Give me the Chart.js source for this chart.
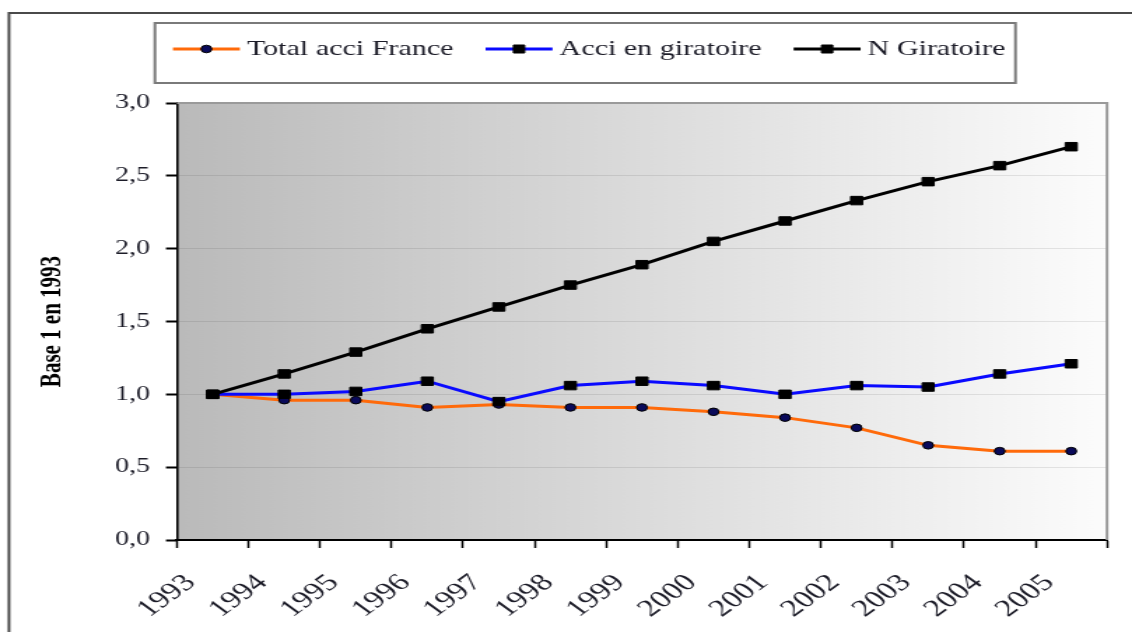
<!DOCTYPE html>
<html>
<head>
<meta charset="utf-8">
<script src="https://cdn.jsdelivr.net/npm/chart.js@4"></script>
<style>
  html, body { margin: 0; padding: 0; background: #fff; overflow: hidden; }
  #wrap { position: relative; width: 1132px; height: 632px; }
  canvas { display: block; }
</style>
</head>
<body>
<div id="wrap"><canvas id="chart"></canvas></div>
<script>
const years = ['1993', '1994', '1995', '1996', '1997', '1998', '1999', '2000', '2001', '2002', '2003', '2004', '2005'];
const totalAcci = [1.00, 0.96, 0.96, 0.91, 0.93, 0.91, 0.91, 0.88, 0.84, 0.77, 0.65, 0.61, 0.61];
const acciGiratoire = [1.00, 1.00, 1.02, 1.09, 0.95, 1.06, 1.09, 1.06, 1.00, 1.06, 1.05, 1.14, 1.21];
const nGiratoire = [1.00, 1.14, 1.29, 1.45, 1.60, 1.75, 1.89, 2.05, 2.19, 2.33, 2.46, 2.57, 2.70];
const seriesNames = ['Total acci France', 'Acci en giratoire', 'N Giratoire'];
const yTicks = [0, 0.5, 1, 1.5, 2, 2.5, 3];

// the original figure is stretched sideways, so the canvas is drawn narrow and widened by css
const SX = 1.4;
const sx = v => v / SX;
const W = Math.round(1132 / SX);

const SERIF = '"Liberation Serif", "Times New Roman", serif';
const TEXT = '#1c1c28';

const canvas = document.getElementById('chart');
canvas.width = W;
canvas.height = 632;
canvas.style.width = '1132px';
canvas.style.height = '632px';

// plot background, frame and legend box
const decor = {
  id: 'decor',
  beforeDraw(chart) {
    const { ctx, chartArea: a } = chart;
    ctx.save();
    ctx.strokeStyle = '#4a4a4a';
    ctx.lineWidth = 2;
    ctx.beginPath();
    ctx.moveTo(sx(9), 632);
    ctx.lineTo(sx(9), 13);
    ctx.lineTo(W, 13);
    ctx.stroke();
    const g = ctx.createLinearGradient(a.left, 0, a.right, 0);
    g.addColorStop(0, '#bababa');
    g.addColorStop(1, '#fcfcfc');
    ctx.fillStyle = g;
    ctx.fillRect(a.left, a.top, a.right - a.left, a.bottom - a.top);
    ctx.restore();
  },
  afterDraw(chart) {
    const { ctx, chartArea: a } = chart;
    ctx.save();
    ctx.strokeStyle = '#9a9a9a';
    ctx.lineWidth = 2;
    ctx.beginPath();
    ctx.moveTo(a.left, a.top);
    ctx.lineTo(a.right, a.top);
    ctx.lineTo(a.right, a.bottom);
    ctx.stroke();

    // legend
    const bx = sx(155), bw = sx(861);
    ctx.fillStyle = '#fff';
    ctx.fillRect(bx, 23, bw, 60);
    ctx.strokeStyle = '#7a7a7a';
    ctx.strokeRect(bx, 23, bw, 60);
    ctx.font = '21.5px ' + SERIF;
    ctx.textBaseline = 'middle';
    let x = sx(173);
    const y = 49;
    const lineLen = sx(67);
    chart.data.datasets.forEach(ds => {
      ctx.strokeStyle = ds.borderColor;
      ctx.lineWidth = 3;
      ctx.beginPath();
      ctx.moveTo(x, y);
      ctx.lineTo(x + lineLen, y);
      ctx.stroke();
      ctx.fillStyle = ds.pointBackgroundColor;
      ctx.strokeStyle = '#000';
      ctx.lineWidth = 1;
      ctx.beginPath();
      const cx = x + lineLen / 2;
      if (ds.pointStyle === 'rect') {
        ctx.rect(cx - 4, y - 4, 8, 8);
      } else {
        ctx.arc(cx, y, 3.8, 0, Math.PI * 2);
      }
      ctx.fill();
      ctx.stroke();
      ctx.fillStyle = TEXT;
      ctx.fillText(ds.label, x + lineLen + sx(7), y);
      x += lineLen + sx(7) + ctx.measureText(ds.label).width + sx(32);
    });
    ctx.restore();
  },
};

new Chart(canvas, {
  type: 'line',
  data: {
    labels: years,
    datasets: [
      {
        label: seriesNames[0], data: totalAcci, order: 2,
        borderColor: '#ff6a0a', borderWidth: 3,
        pointStyle: 'circle', pointRadius: 3.8,
        pointBackgroundColor: '#0a0a5a', pointBorderColor: '#000', pointBorderWidth: 1,
      },
      {
        label: seriesNames[1], data: acciGiratoire, order: 1,
        borderColor: '#0a0aff', borderWidth: 3,
        pointStyle: 'rect', pointRadius: 6,
        pointBackgroundColor: '#000', pointBorderColor: '#000', pointBorderWidth: 1,
      },
      {
        label: seriesNames[2], data: nGiratoire, order: 0,
        borderColor: '#000', borderWidth: 3,
        pointStyle: 'rect', pointRadius: 6,
        pointBackgroundColor: '#000', pointBorderColor: '#000', pointBorderWidth: 1,
      },
    ],
  },
  options: {
    responsive: false,
    animation: false,
    devicePixelRatio: 1,
    layout: { padding: { top: 103, right: sx(25), left: 0, bottom: 0 } },
    plugins: { legend: { display: false }, tooltip: { enabled: false } },
    scales: {
      x: {
        offset: true,
        grid: { offset: true, drawOnChartArea: false, tickLength: 8, tickColor: '#000', tickWidth: 1.5 },
        border: { color: '#000', width: 2 },
        ticks: {
          minRotation: 45, maxRotation: 45, labelOffset: sx(-22), padding: 21,
          color: TEXT, font: { family: SERIF, size: 24 },
        },
        afterFit(s) { s.height = 92; },
      },
      y: {
        min: 0, max: 3,
        afterBuildTicks(s) { s.ticks = yTicks.map(v => ({ value: v })); },
        grid: { color: 'rgba(0,0,0,0.09)', tickLength: sx(11), tickColor: '#000', tickWidth: 2 },
        border: { color: '#000', width: 1.6 },
        ticks: {
          padding: sx(16), color: TEXT, font: { family: SERIF, size: 20 },
          callback: v => v.toFixed(1).replace('.', ','),
        },
        title: {
          display: true, text: 'Base 1 en 1993', color: '#000',
          font: { family: SERIF, size: 21, weight: 'bold' },
          padding: { top: sx(52) - 12.6, bottom: 0 },
        },
        afterFit(s) { s.width = sx(177); },
      },
    },
  },
  plugins: [decor],
});
</script>
</body>
</html>
